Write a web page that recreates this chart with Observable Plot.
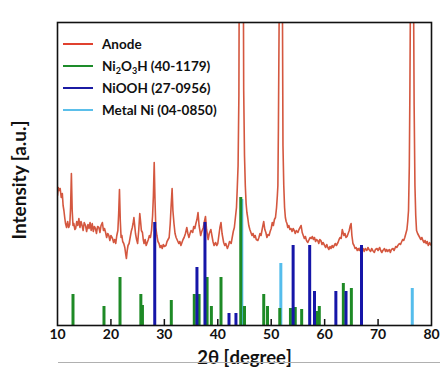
<!DOCTYPE html>
<html><head><meta charset="utf-8">
<script src="https://cdn.jsdelivr.net/npm/d3@7"></script>
<script src="https://cdn.jsdelivr.net/npm/@observablehq/plot@0.6"></script>
<style>
body{margin:0;background:#fff;}
#wrap{position:relative;width:446px;height:370px;}
#wrap svg{display:block;}
#legend{position:absolute;left:63px;top:33px;font-family:Lato,"Open Sans",sans-serif;font-weight:bold;font-size:13.5px;color:#111;}
.row{display:flex;align-items:center;height:22px;}
.sw{width:30px;height:2.5px;margin-right:9px;}
sub{font-size:9px;vertical-align:-3px;line-height:0;}
#gline{position:absolute;left:58px;top:362px;width:382px;height:1px;background:#b0b0b0;}
</style></head><body><div id="wrap"></div>
<script>
// Anode XRD pattern (2θ in degrees, intensity in arbitrary units)
const anodeT = [10.0,10.15,10.3,10.5,10.7,10.9,11.05,11.2,11.35,11.5,11.7,11.9,12.1,12.3,12.45,12.6,12.75,12.9,13.05,13.25,13.4,13.6,13.8,14.0,14.2,14.4,14.6,14.8,15.0,15.25,15.45,15.7,15.9,16.1,16.3,16.5,16.7,16.9,17.1,17.3,17.5,17.75,17.95,18.15,18.4,18.6,18.8,19.0,19.2,19.4,19.6,19.8,20.0,20.3,20.5,20.7,20.9,21.1,21.3,21.45,21.6,21.75,21.9,22.05,22.2,22.4,22.6,22.75,22.9,23.05,23.2,23.4,23.6,23.8,24.0,24.15,24.3,24.45,24.6,24.8,25.0,25.2,25.4,25.55,25.7,25.9,26.05,26.2,26.4,26.6,26.8,27.0,27.2,27.4,27.6,27.8,27.95,28.1,28.25,28.4,28.6,28.8,29.0,29.2,29.4,29.6,29.8,30.0,30.3,30.5,30.7,30.9,31.1,31.25,31.45,31.6,31.8,32.0,32.2,32.45,32.7,32.9,33.1,33.3,33.5,33.7,33.95,34.2,34.4,34.6,34.8,35.0,35.3,35.5,35.7,35.9,36.1,36.3,36.5,36.8,37.0,37.3,37.5,37.7,37.9,38.2,38.4,38.7,38.9,39.1,39.3,39.6,39.8,40.0,40.2,40.4,40.6,40.8,41.1,41.3,41.5,41.8,42.0,42.2,42.5,42.7,42.9,43.1,43.3,43.5,43.65,43.8,43.95,44.0,44.4,44.8,44.85,45.0,45.15,45.3,45.45,45.6,45.8,46.0,46.2,46.4,46.6,46.8,47.0,47.2,47.5,47.7,47.9,48.1,48.3,48.45,48.6,48.8,49.0,49.2,49.4,49.6,49.8,50.0,50.2,50.4,50.6,50.8,51.0,51.15,51.25,51.35,51.5,51.8,52.1,52.2,52.35,52.5,52.65,52.8,52.95,53.1,53.3,53.5,53.7,53.9,54.1,54.3,54.5,54.7,55.0,55.2,55.4,55.6,55.8,56.0,56.2,56.4,56.6,56.85,57.1,57.3,57.5,57.7,57.9,58.1,58.3,58.5,58.7,58.9,59.1,59.3,59.5,59.7,60.0,60.2,60.4,60.6,60.8,61.0,61.2,61.4,61.6,61.8,62.0,62.2,62.5,62.7,62.9,63.1,63.3,63.45,63.6,63.8,64.0,64.2,64.4,64.6,64.8,64.95,65.1,65.3,65.5,65.7,65.9,66.1,66.3,66.5,66.7,66.9,67.2,67.4,67.6,67.9,68.1,68.3,68.6,68.8,69.0,69.3,69.5,69.8,70.0,70.3,70.5,70.7,70.9,71.2,71.4,71.6,71.8,72.1,72.3,72.5,72.8,73.0,73.3,73.5,73.7,74.0,74.2,74.35,74.6,74.8,75.0,75.2,75.4,75.55,75.7,75.85,75.95,76.05,76.35,76.65,76.75,76.9,77.05,77.2,77.4,77.6,77.8,78.0,78.2,78.4,78.6,78.8,79.0,79.2,79.4,79.65,79.8,80.0];
const anodeI = [130,138,135,137,128,132,120,115,108,102,98,104,98,101,118,152,115,100,102,96,97,104,100,107,98,104,100,95,103,100,94,101,97,103,95,102,94,99,97,92,99,98,93,100,103,95,97,93,88,92,90,85,90,87,83,86,82,90,95,112,136,105,88,90,84,82,78,72,67,75,80,82,88,94,98,102,108,100,92,86,82,95,112,104,95,93,86,82,86,80,83,86,90,88,95,110,130,163,125,98,90,84,82,78,80,77,81,79,80,84,86,88,102,118,137,115,102,92,88,85,82,84,80,83,86,88,92,98,92,88,92,95,93,99,97,102,106,113,100,90,94,98,104,109,96,86,92,96,90,84,80,83,80,82,90,98,103,92,83,80,82,77,80,84,82,88,94,98,108,118,138,160,230,320,420,320,235,170,140,122,113,108,100,96,93,90,92,88,90,86,85,88,92,90,96,100,104,96,93,88,91,90,94,97,103,100,106,108,118,130,140,200,320,420,320,180,140,118,108,104,102,98,100,96,97,94,97,95,92,95,93,96,98,100,93,90,87,89,85,83,86,88,87,89,86,88,84,86,85,82,86,85,81,83,80,78,81,78,76,79,77,80,78,80,82,80,83,86,88,87,96,93,90,92,88,89,92,95,100,102,90,82,80,77,78,75,77,75,78,76,77,74,77,75,78,76,74,77,75,73,76,77,75,78,75,73,75,77,74,76,74,76,73,76,77,75,79,78,80,82,81,83,86,85,88,92,96,104,115,160,230,320,420,320,220,140,110,95,92,90,88,86,88,85,83,85,82,84,80,83,81,80];

// Reference patterns: stick positions (2θ) and relative heights
const ni2o3hT = [12.9,18.7,21.7,25.6,25.9,31.3,35.6,36.5,38.0,38.8,40.6,44.3,45.0,48.6,49.3,51.6,53.6,54.5,55.7,58.6,59.0,63.5,65.0];
const ni2o3hI = [31,19,48,31,20,25,31,31,48,19,48,128,19,31,19,17,17,18,16,14,19,42,37];
const nioohT = [28.2,36.1,37.6,42.1,43.4,54.1,57.2,58.1,62.1,64.0,66.9];
const nioohI = [103,58,103,12,12,80,80,34,34,34,80];
const metalNiT = [44.5,51.8,76.4];
const metalNiI = [126,62,37];

const xTicks = [10,20,30,40,50,60,70,80];
const xTicksInner = [20,30,40,50,60,70];
const seriesNames = ["Anode","Ni<sub>2</sub>O<sub>3</sub>H (40-1179)","NiOOH (27-0956)","Metal Ni (04-0850)"];
const seriesColors = ["#e0412f","#1d8c2a","#1b1ba3","#5bbfea"];
const curveColor = "#d4573f";
const stickColors = {ni2o3h:"#1e8a26", niooh:"#1616a8", metal:"#55bdec"};

const anode = anodeT.map((t,i)=>({t, i: anodeI[i]}));
const sticks = (T,I)=>T.map((t,k)=>({t, i:I[k]}));

const plotH = 370, mTop = 22, mBottom = 45;
const chart = Plot.plot({
  width: 446, height: plotH,
  marginLeft: 57, marginRight: 15, marginTop: mTop, marginBottom: mBottom,
  style: {background: "#fff", fontFamily: "Lato, 'Open Sans', sans-serif", color: "#111"},
  x: {domain: [10, 80]},
  y: {domain: [0, 303], axis: null},
  marks: [
    Plot.line(anode, {x: "t", y: "i", stroke: curveColor, strokeWidth: 1.6, clip: true}),
    Plot.ruleX(sticks(metalNiT, metalNiI), {x: "t", y1: 0, y2: "i", stroke: stickColors.metal, strokeWidth: 3}),
    Plot.ruleX(sticks(ni2o3hT, ni2o3hI), {x: "t", y1: 0, y2: "i", stroke: stickColors.ni2o3h, strokeWidth: 3}),
    Plot.ruleX(sticks(nioohT, nioohI), {x: "t", y1: 0, y2: "i", stroke: stickColors.niooh, strokeWidth: 3}),
    Plot.tickX(xTicksInner, {x: d => d, stroke: "#111", strokeWidth: 1.5, insetTop: plotH - mTop - mBottom - 6}),
    Plot.frame({stroke: "#111", strokeWidth: 1.6}),
    Plot.axisX({ticks: xTicks, tickSize: 0, tickPadding: 4, fontSize: 14, fontWeight: "bold", label: null, tickFormat: d => String(d)}),
    Plot.text(["2θ [degree]"], {frameAnchor: "bottom", lineAnchor: "middle", dy: 33, fontSize: 18.5, fontWeight: "bold", fill: "#111"}),
    Plot.text(["Intensity [a.u.]"], {frameAnchor: "left", textAnchor: "middle", dx: -38, dy: 6, rotate: -90, fontSize: 19, fontWeight: "bold", fill: "#111"})
  ]
});
const wrap = document.getElementById("wrap");
wrap.appendChild(chart);
const leg = document.createElement("div");
leg.id = "legend";
leg.innerHTML = seriesNames.map((n,k)=>`<div class="row"><div class="sw" style="background:${seriesColors[k]}"></div><span>${n}</span></div>`).join("");
wrap.appendChild(leg);
const g = document.createElement("div"); g.id = "gline"; wrap.appendChild(g);
</script>
</body></html>
